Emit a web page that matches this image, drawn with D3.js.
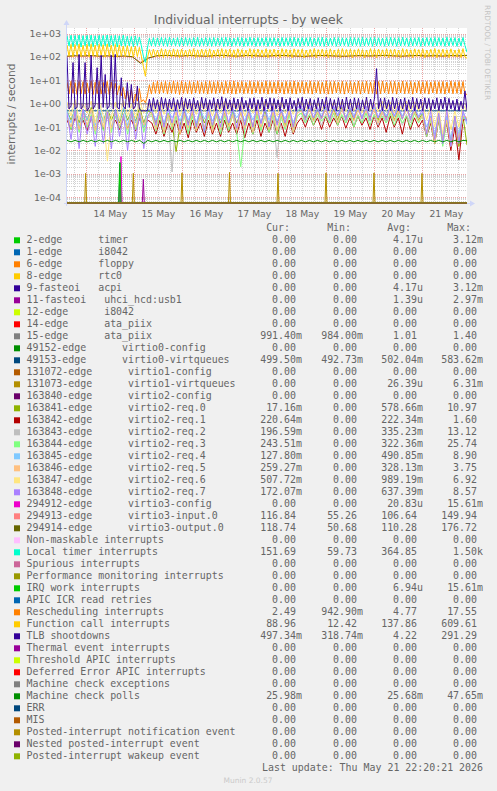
<!DOCTYPE html>
<html><head><meta charset="utf-8">
<script src="https://cdn.jsdelivr.net/npm/d3@7"></script>
<style>
html,body{margin:0;padding:0;background:#F0F0F0;}
svg{display:block;}
</style></head><body>
<svg id="c" width="497" height="791"></svg>
<script>
// ---------------- DATA ----------------
const title = "Individual interrupts - by week";
const yAxisTitle = "interrupts / second";
const watermark = "RRDTOOL / TOBI OETIKER";
const version = "Munin 2.0.57";
const lastUpdate = "Last update: Thu May 21 22:20:21 2026";
const startTime = "2026-05-13T14:20:21Z";
const endTime = "2026-05-21T22:20:21Z";
const yMin = 5.65e-5, yMax = 1755;
const yTickValues = [1e-4, 1e-3, 1e-2, 1e-1, 1e0, 1e1, 1e2, 1e3];
const yTickLabels = ["1e-04","1e-03","1e-02","1e-01","1e+00","1e+01","1e+02","1e+03"];
const xTickTimes = ["2026-05-14T12:00Z","2026-05-15T12:00Z","2026-05-16T12:00Z","2026-05-17T12:00Z","2026-05-18T12:00Z","2026-05-19T12:00Z","2026-05-20T12:00Z","2026-05-21T12:00Z"];
const xTickLabels = ["14 May","15 May","16 May","17 May","18 May","19 May","20 May","21 May"];
const statHeaders = ["Cur:","Min:","Avg:","Max:"];

const legendLabels = [
"2-edge      timer","1-edge      i8042","6-edge      floppy","8-edge      rtc0","9-fasteoi   acpi",
"11-fasteoi   uhci_hcd:usb1","12-edge      i8042","14-edge      ata_piix","15-edge      ata_piix",
"49152-edge      virtio0-config","49153-edge      virtio0-virtqueues","131072-edge      virtio1-config",
"131073-edge      virtio1-virtqueues","163840-edge      virtio2-config","163841-edge      virtio2-req.0",
"163842-edge      virtio2-req.1","163843-edge      virtio2-req.2","163844-edge      virtio2-req.3",
"163845-edge      virtio2-req.4","163846-edge      virtio2-req.5","163847-edge      virtio2-req.6",
"163848-edge      virtio2-req.7","294912-edge      virtio3-config","294913-edge      virtio3-input.0",
"294914-edge      virtio3-output.0","Non-maskable interrupts","Local timer interrupts","Spurious interrupts",
"Performance monitoring interrupts","IRQ work interrupts","APIC ICR read retries","Rescheduling interrupts",
"Function call interrupts","TLB shootdowns","Thermal event interrupts","Threshold APIC interrupts",
"Deferred Error APIC interrupts","Machine check exceptions","Machine check polls","ERR","MIS",
"Posted-interrupt notification event","Nested posted-interrupt event","Posted-interrupt wakeup event"];
const legendColors = [
"#00CC00","#0066B3","#FF8000","#FFCC00","#330099","#990099","#CCFF00","#FF0000","#808080","#008F00",
"#00487D","#B35A00","#B38F00","#6B006B","#8FB300","#B30000","#BEBEBE","#80FF80","#80C9FF","#FFC080",
"#FFE680","#AA80FF","#EE00CC","#FF8080","#666600","#FFBFFF","#00FFCC","#CC6699","#999900","#00CC00",
"#0066B3","#FF8000","#FFCC00","#330099","#990099","#CCFF00","#FF0000","#808080","#008F00","#00487D",
"#B35A00","#B38F00","#6B006B","#8FB300"];
const curVals = ["0.00","0.00","0.00","0.00","0.00","0.00","0.00","0.00","991.40m","0.00","499.50m","0.00","0.00","0.00","17.16m","220.64m","196.59m","243.51m","127.80m","259.27m","507.72m","172.07m","0.00","116.84","118.74","0.00","151.69","0.00","0.00","0.00","0.00","2.49","88.96","497.34m","0.00","0.00","0.00","0.00","25.98m","0.00","0.00","0.00","0.00","0.00"];
const minVals = ["0.00","0.00","0.00","0.00","0.00","0.00","0.00","0.00","984.00m","0.00","492.73m","0.00","0.00","0.00","0.00","0.00","0.00","0.00","0.00","0.00","0.00","0.00","0.00","55.26","50.68","0.00","59.73","0.00","0.00","0.00","0.00","942.90m","12.42","318.74m","0.00","0.00","0.00","0.00","0.00","0.00","0.00","0.00","0.00","0.00"];
const avgVals = ["4.17u","0.00","0.00","0.00","4.17u","1.39u","0.00","0.00","1.01","0.00","502.04m","0.00","26.39u","0.00","578.66m","222.34m","335.23m","322.36m","490.85m","328.13m","989.19m","637.39m","20.83u","106.64","110.28","0.00","364.85","0.00","0.00","6.94u","0.00","4.77","137.86","4.22","0.00","0.00","0.00","0.00","25.68m","0.00","0.00","0.00","0.00","0.00"];
const maxVals = ["3.12m","0.00","0.00","0.00","3.12m","2.97m","0.00","0.00","1.40","0.00","583.62m","0.00","6.31m","0.00","10.97","1.60","13.12","25.74","8.90","3.75","6.92","8.57","15.61m","149.94","176.72","0.00","1.50k","0.00","0.00","15.61m","0.00","17.55","609.61","291.29","0.00","0.00","0.00","0.00","47.65m","0.00","0.00","0.00","0.00","0.00"];

// dense series (evenly spaced over the week window)
const localTimer = [
820,300,860,280,840,310,880,270,830,300,850,290,870,280,820,310,860,290,840,300,
880,280,830,300,850,270,820,300,860,290,780,300,760,280,800,310,720,300,110,60,
240,640,300,680,290,660,310,690,300,670,290,700,310,650,300,680,290,670,300,690,
310,660,290,680,300,700,290,650,310,680,300,670,290,690,300,660,310,680,290,700,
300,670,290,650,310,690,300,680,290,660,300,700,310,670,290,680,300,660,310,690,
290,670,300,680,310,650,290,690,300,670,310,680,290,700,300,660,290,680,310,670,
300,690,290,660,310,680,300,700,290,670,300,650,310,690,290,680,300,670,310,660,
290,690,300,680,310,670,290,700,300,660,310,680,290,690,300,670,310,650,290,680,
300,690,310,670,290,680,300,700,310,660,290,680,300,670,310,690,290,660,300,680,
310,670,290,690,300,680,310,660,290,700,300,670,310,680,290,650,300,690,310,160];
const funcCall = [
330,110,350,100,340,115,360,105,320,110,345,100,355,110,330,105,350,115,340,100,
360,110,325,105,345,100,335,110,300,105,310,110,280,100,290,105,260,110,40,15,
90,210,100,220,105,200,100,230,95,215,105,205,100,225,100,210,95,220,105,200,
100,215,105,230,95,205,100,220,105,210,100,225,95,200,105,215,100,230,95,210,
105,220,100,205,95,225,105,210,100,200,105,230,95,215,100,220,105,205,100,225,
95,210,105,220,100,200,95,230,105,215,100,205,95,225,105,210,100,220,95,200,
105,215,100,230,95,210,105,220,100,205,95,225,105,200,100,215,95,230,105,210,
100,220,95,205,105,225,100,210,95,200,105,230,100,215,95,220,105,205,100,225,
95,210,105,220,100,200,95,230,105,215,100,205,95,225,105,210,100,220,95,200,
105,215,100,230,95,210,105,220,100,205,95,225,105,200,100,215,95,230,100,89];
const resched = [
8.5,2.6,9.2,2.8,8.0,2.5,9.0,2.7,8.8,2.6,7.9,2.9,9.3,2.5,8.4,2.7,9.1,2.6,8.2,2.8,
9.0,2.5,8.6,2.7,7.5,2.4,6.0,2.2,5.0,1.6,3.5,1.2,4.0,1.1,2.6,1.3,4.5,1.2,1.5,1.1,
2.2,6.5,2.6,8.4,2.8,9.2,2.7,8.6,2.9,9.0,2.6,8.3,2.8,9.4,2.7,8.7,2.5,9.1,2.8,8.5,
2.7,9.0,2.6,8.6,2.9,9.3,2.7,8.4,2.8,8.9,2.6,9.2,2.8,8.7,2.7,9.0,2.9,8.5,2.6,9.1,
2.8,8.8,2.7,9.4,2.6,8.6,2.9,9.0,2.7,8.3,2.8,9.2,2.6,8.7,2.9,9.0,2.7,8.5,2.8,9.3,
2.6,8.9,2.8,8.6,2.7,9.1,2.9,8.4,2.6,9.0,2.8,8.8,2.7,9.3,2.6,8.6,2.9,9.0,2.7,8.5,
2.8,9.2,2.6,8.7,2.9,9.0,2.7,8.4,2.8,9.3,2.6,8.8,2.7,9.0,2.9,8.6,2.8,9.1,2.6,8.7,
2.9,9.0,2.7,8.5,2.8,9.4,2.6,8.8,2.9,9.1,2.7,8.6,2.8,9.0,2.6,8.9,2.7,9.2,2.9,8.5,
2.7,8.9,2.8,9.0,2.6,8.6,2.9,9.3,2.7,8.7,2.8,9.0,2.6,8.4,2.9,9.2,2.7,8.8,2.8,9.0,
2.6,8.6,2.9,9.1,2.7,8.8,2.8,9.0,2.6,8.5,2.9,9.3,2.7,8.7,2.8,9.0,2.6,8.9,2.7,2.5];
const tlbShoot = [
96,0.6,0.8,58,0.6,0.7,130,0.6,0.8,58,0.5,0.7,118,0.6,0.9,35,0.6,118,0.7,18,
0.6,0.8,118,0.6,130,0.7,0.6,13,0.8,0.6,8,0.7,6.7,0.6,0.8,5.8,0.6,0.5,0.5,0.5,
0.5,1.6,0.5,1.8,0.6,1.5,0.5,1.9,0.6,1.7,0.5,1.6,0.6,1.8,0.5,1.5,0.6,1.9,0.5,1.7,
0.6,1.6,0.5,1.8,0.6,1.4,0.5,1.9,0.6,1.7,0.5,1.5,0.6,1.8,0.5,1.6,0.6,2.0,0.5,1.7,
0.6,1.5,0.5,1.8,0.6,1.6,0.5,1.9,0.6,1.4,0.5,1.7,0.6,1.8,0.5,1.5,0.6,1.9,0.5,1.6,
0.6,1.8,0.5,1.7,0.6,1.5,0.5,1.9,0.6,1.6,0.5,1.8,0.6,1.4,0.5,1.7,0.6,1.9,0.5,1.6,
0.6,1.7,0.5,1.5,0.6,1.8,0.5,1.6,0.6,1.9,0.5,1.7,0.6,1.5,0.5,1.8,0.6,1.6,0.5,1.9,
0.6,1.6,0.5,1.8,0.6,1.7,0.5,1.5,0.6,1.9,0.5,1.6,0.6,1.8,32,0.6,1.7,0.5,1.8,0.6,
1.5,0.5,1.9,0.6,1.7,0.5,1.6,0.6,1.8,0.5,1.5,0.6,1.9,0.5,1.7,0.6,1.6,0.5,1.8,0.6,
1.7,0.5,1.5,0.6,1.8,0.5,1.6,0.6,1.9,0.5,1.7,0.6,1.4,0.5,1.6,0.5,1.3,0.6,3.5,0.5];
const virtio3In = [
105,110,108,112,106,110,104,108,100,60,90,110,115,112,108,114,110,106,112,116,
110,108,114,112,106,110,115,112,108,104,110,114,112,108,106,110,113,109,112,115,
110,107,111,114,109,112,108,113,110,117];
const virtio3Out = [
110,114,112,116,110,113,108,112,104,54,92,114,118,116,112,117,113,110,115,119,
113,111,117,115,110,113,118,115,111,108,113,117,115,111,109,113,116,112,115,118,
113,110,114,117,112,115,111,116,113,119];
const ataPiix15 = [1.0,1.01,1.02,1.0,1.01,1.0,1.03,1.01,1.0,1.02,1.01,1.0,1.01,1.02,1.0,1.01,1.0,1.02,1.01,1.0,1.01,1.02,1.0,1.01,0.99];
const virtio0Vq = [0.5,0.502,0.501,0.503,0.5,0.502,0.501,0.5,0.503,0.502,0.5,0.501,0.502,0.5,0.503,0.501,0.5,0.502,0.501,0.503,0.5,0.502,0.501,0.5,0.4995];
const req0 = [
0.5,0.2,0.6,0.15,0.5,0.2,0.7,0.15,0.5,0.18,0.6,0.2,0.5,0.15,0.6,0.2,0.5,0.18,0.7,0.15,0.5,
0.4,0.15,0.5,0.12,0.4,0.15,0.009,0.12,0.5,0.15,0.4,0.12,0.5,0.15,0.4,0.1,0.5,0.15,0.4,0.12,0.5,0.15,0.4,0.12,0.5,0.1,0.4,0.15,0.5,0.12,0.4,0.15,0.5,0.12,0.4,0.1,0.5,
0.6,0.25,0.7,0.2,0.6,0.25,0.7,0.22,0.6,0.2,0.7,0.25,0.6,0.2,0.7,0.22,0.6,0.25,0.7,0.2,0.6,0.25,0.7,0.2,0.6,0.22,0.7,0.25,0.6,0.2,
0.4,0.05,0.3,0.02,0.35,0.03,0.3,0.02,0.25,0.015,0.3,0.017];
const req1 = [
0.2,0.08,0.25,0.1,0.2,0.07,0.25,0.09,0.2,0.08,0.3,0.1,0.2,0.08,0.25,0.09,0.2,0.07,0.25,0.1,0.2,
0.15,0.05,0.2,0.04,0.15,0.06,0.2,0.05,0.15,0.035,0.2,0.06,0.15,0.04,0.2,0.05,0.15,0.04,0.2,0.06,0.15,0.05,0.2,0.035,0.15,0.05,0.2,0.04,0.15,0.06,0.2,0.05,0.15,0.04,0.2,0.05,0.15,
0.25,0.1,0.3,0.12,0.25,0.08,0.3,0.1,0.25,0.12,0.3,0.09,0.25,0.1,0.3,0.12,0.25,0.08,0.3,0.1,0.25,0.06,0.3,0.1,0.25,0.05,0.3,0.08,0.25,0.1,
0.2,0.04,0.15,0.02,0.2,0.03,0.15,0.01,0.1,0.004,0.2,0.22];
const req2 = [
0.3,0.1,0.35,0.08,0.3,0.12,0.25,0.09,0.35,0.1,0.3,0.08,0.3,0.11,0.25,0.1,0.35,0.08,0.3,0.1,0.25,
0.3,0.09,0.35,0.07,0.3,0.0012,0.3,0.08,0.35,0.06,0.3,0.09,0.25,0.07,0.35,0.08,0.3,0.06,0.35,0.09,0.3,0.07,0.25,0.08,0.35,0.06,0.3,0.09,0.35,0.07,0.3,0.005,0.3,0.08,0.35,0.06,0.3,
0.4,0.15,0.35,0.18,0.4,0.12,0.35,0.15,0.4,0.18,0.3,0.15,0.4,0.12,0.35,0.15,0.4,0.18,0.3,0.12,0.4,0.15,0.35,0.18,0.4,0.12,0.35,0.15,0.4,0.18,
0.3,0.05,0.2,0.03,0.25,0.02,0.3,0.015,0.2,0.03,0.25,0.2];
const req3 = [
0.3,0.08,0.4,0.06,0.25,0.1,0.35,0.05,0.3,0.07,0.4,0.06,0.3,0.09,0.35,0.05,0.3,0.08,0.4,0.06,0.3,
0.35,0.07,0.3,0.05,0.4,0.08,0.3,0.06,0.35,0.05,0.3,0.07,0.4,0.06,0.3,0.08,0.35,0.05,0.3,0.07,0.4,0.06,0.002,0.08,0.3,0.05,0.35,0.07,0.3,0.06,0.4,0.05,0.3,0.08,0.35,0.06,0.3,
0.4,0.15,0.35,0.12,0.4,0.18,0.3,0.15,0.4,0.12,0.35,0.15,0.4,0.1,0.3,0.15,0.4,0.12,0.35,0.18,0.3,0.15,0.4,0.12,0.35,0.15,0.3,0.1,0.4,0.15,
0.3,0.04,0.2,0.02,0.25,0.015,0.2,0.02,0.3,0.03,0.25,0.24];
const req4 = [
0.5,0.15,0.7,0.1,0.6,0.2,0.5,0.12,0.8,0.15,0.6,0.1,0.5,0.18,0.7,0.12,0.6,0.15,0.5,0.1,0.6,
0.5,0.2,0.6,0.15,0.55,0.25,0.5,0.18,0.65,0.2,0.5,0.15,0.6,0.22,0.55,0.18,0.5,0.2,0.6,0.15,0.55,0.25,0.5,0.18,0.6,0.2,0.5,0.15,0.65,0.2,0.55,0.18,0.5,0.22,0.6,0.15,0.5,
0.6,0.3,0.7,0.25,0.6,0.3,0.65,0.28,0.7,0.3,0.6,0.25,0.7,0.3,0.65,0.28,0.6,0.3,0.7,0.25,0.6,0.3,0.65,0.28,0.7,0.3,0.6,0.25,0.7,0.3,
0.4,0.1,0.3,0.05,0.35,0.04,0.3,0.03,0.25,0.05,0.4,0.13];
const req5 = [
0.3,0.1,0.5,0.08,0.4,0.12,0.6,0.07,0.35,0.1,0.5,0.09,0.4,0.11,0.3,0.08,0.45,0.1,0.5,0.12,0.3,
0.4,0.08,0.5,0.06,0.35,0.1,0.45,0.05,0.4,0.09,0.5,0.07,0.3,0.1,0.45,0.06,0.4,0.08,0.5,0.1,0.35,0.07,0.45,0.09,0.4,0.06,0.5,0.1,0.3,0.08,0.45,0.07,0.4,0.1,0.5,0.06,0.4,
0.5,0.2,0.6,0.18,0.45,0.22,0.55,0.2,0.5,0.15,0.6,0.2,0.45,0.18,0.55,0.22,0.5,0.2,0.6,0.15,0.45,0.2,0.55,0.18,0.5,0.22,0.6,0.2,0.45,0.18,
0.3,0.05,0.25,0.02,0.3,0.03,0.2,0.015,0.25,0.03,0.3,0.26];
const req6 = [
1.2,0.3,1.5,0.2,1.0,0.4,1.3,0.15,1.1,0.3,0.0035,0.3,1.2,0.2,1.4,0.3,1.0,0.25,1.3,0.4,0.8,
1.0,0.4,1.2,0.35,0.9,0.5,1.1,0.3,1.3,0.4,1.0,0.35,1.2,0.45,0.9,0.3,1.1,0.4,1.3,0.35,1.0,0.5,1.2,0.3,0.9,0.4,1.1,0.35,1.3,0.45,1.0,0.3,1.2,0.4,0.9,0.35,1.1,
1.2,0.5,1.3,0.45,1.1,0.5,1.4,0.4,1.2,0.55,1.3,0.45,1.1,0.5,1.2,0.4,1.4,0.5,1.1,0.45,1.3,0.5,1.2,0.4,1.1,0.5,1.3,0.45,1.2,0.5,
1.0,0.2,0.8,0.1,0.6,0.05,0.7,0.08,0.5,0.1,0.9,0.5];
const req7 = [
0.4,0.03,0.5,0.012,0.6,0.05,0.3,0.015,0.5,0.02,0.45,0.012,0.6,0.04,0.35,0.01,0.5,0.03,0.4,0.012,0.3,
0.6,0.12,0.8,0.1,0.7,0.15,0.9,0.08,0.6,0.12,0.8,0.1,0.7,0.06,0.9,0.12,0.6,0.1,0.8,0.15,0.7,0.09,0.8,0.12,0.6,0.1,0.9,0.14,0.7,0.1,0.8,0.12,0.6,0.15,0.9,0.1,0.7,
0.8,0.2,0.9,0.25,0.7,0.22,1.0,0.2,0.8,0.3,0.9,0.2,0.7,0.25,0.9,0.22,0.8,0.2,1.0,0.25,0.7,0.2,0.9,0.3,0.8,0.22,0.9,0.2,0.7,0.25,
0.6,0.05,0.5,0.03,0.4,0.02,0.6,0.015,0.3,0.02,0.5,0.17];
const mcPolls = [
0.027,0.0235,0.027,0.0235,0.027,0.0235,0.027,0.0235,0.027,0.0235,0.027,0.0235,0.027,0.0235,0.027,0.0235,0.027,0.0235,0.027,0.02,
0.027,0.0235,0.027,0.0235,0.027,0.0235,0.027,0.0235,0.027,0.0235,0.027,0.0235,0.027,0.0235,0.027,0.0235,0.027,0.0235,0.027,0.0235,
0.027,0.0235,0.027,0.0235,0.027,0.0235,0.027,0.0235,0.027,0.0235,0.027,0.0235,0.027,0.0235,0.027,0.0235,0.027,0.0235,0.027,0.0235,
0.027,0.0235,0.027,0.0235,0.027,0.0235,0.027,0.0235,0.027,0.0235,0.027,0.0235,0.027,0.0235,0.027,0.0235,0.027,0.0235,0.027,0.0235,
0.027,0.0235,0.027,0.0235,0.027,0.0235,0.027,0.0235,0.027,0.0235,0.027,0.0235,0.027,0.0235,0.027,0.0235,0.027,0.0235,0.027,0.026];

// sparse spike series (zero elsewhere)
const vq1SpikeTimes = ["2026-05-13T23:40Z","2026-05-14T23:30Z","2026-05-15T23:50Z","2026-05-16T23:35Z","2026-05-17T23:50Z","2026-05-18T23:50Z","2026-05-19T23:50Z","2026-05-20T23:50Z"];
const vq1SpikeVals = [1.05e-3,1.05e-3,1.1e-3,1.15e-3,1.05e-3,1.1e-3,1.1e-3,1.05e-3];
const timerSpikeTimes = ["2026-05-14T16:40Z"]; const timerSpikeVals = [3e-3];
const acpiSpikeTimes = ["2026-05-14T16:50Z"]; const acpiSpikeVals = [3e-3];
const usbSpikeTimes = ["2026-05-15T04:30Z"]; const usbSpikeVals = [6e-4];
const v3cfgSpikeTimes = ["2026-05-14T17:20Z"]; const v3cfgSpikeVals = [5.5e-3];
const irqWorkSpikeTimes = ["2026-05-14T16:50Z"]; const irqWorkSpikeVals = [3e-3];

// ---------------- DRAWING ----------------
const W = 497, H = 791;
const plot = {left: 67, top: 28, width: 400, height: 175};
const bottomY = plot.top + plot.height;
const T0 = new Date(startTime).getTime(), T1 = new Date(endTime).getTime();
const fontColor = "#666666", axisColor = "#CFD6F8";

const svg = d3.select("#c");
svg.append("rect").attr("width", W).attr("height", H).attr("fill", "#F0F0F0");
svg.append("rect").attr("x", plot.left).attr("y", plot.top).attr("width", plot.width).attr("height", plot.height).attr("fill", "#FFFFFF");

const x = d3.scaleUtc().domain([new Date(T0), new Date(T1)]).range([plot.left, plot.left + plot.width]);
const y = d3.scaleLog().domain([yMin, yMax]).range([bottomY, plot.top]);

// grid
const grid = svg.append("g");
d3.utcHour.every(6).range(new Date(T0), new Date(T1)).forEach(t => {
  const major = t.getUTCHours() === 0;
  const xx = Math.round(x(t)) + 0.5;
  grid.append("line").attr("x1", xx).attr("x2", xx).attr("y1", plot.top).attr("y2", bottomY)
    .attr("stroke", major ? "#EBA3A3" : "#D2D2D2").attr("stroke-dasharray", "1,1");
});
for (let e = -5; e <= 3; e++) {
  for (let k = 1; k <= 9; k++) {
    const v = k * Math.pow(10, e);
    if (v < yMin || v > yMax) continue;
    const yy = Math.round(y(v)) + 0.5;
    grid.append("line").attr("x1", plot.left).attr("x2", plot.left + plot.width).attr("y1", yy).attr("y2", yy)
      .attr("stroke", k === 1 ? "#EBA3A3" : "#D2D2D2").attr("stroke-dasharray", "1,1");
  }
}

// axes (rrdtool style)
const ax = svg.append("g").attr("fill", axisColor).attr("stroke", axisColor);
ax.append("line").attr("x1", plot.left - 0.5).attr("x2", plot.left - 0.5).attr("y1", bottomY + 3).attr("y2", plot.top - 4);
ax.append("path").attr("stroke", "none").attr("d", `M${plot.left - 3.5},${plot.top - 3}L${plot.left + 2.5},${plot.top - 3}L${plot.left - 0.5},${plot.top - 8}Z`);
ax.append("line").attr("x1", plot.left - 3).attr("x2", plot.left + plot.width + 4).attr("y1", bottomY + 0.5).attr("y2", bottomY + 0.5);
ax.append("path").attr("stroke", "none").attr("d", `M${plot.left + plot.width + 3},${bottomY - 2.5}L${plot.left + plot.width + 3},${bottomY + 3.5}L${plot.left + plot.width + 8},${bottomY + 0.5}Z`);

// series building
function dense(vals) {
  const n = vals.length;
  return vals.map((v, j) => ({t: new Date(T0 + j * (T1 - T0) / (n - 1)), v}));
}
function spikes(times, vals) {
  const pts = [{t: new Date(T0), v: 0}];
  times.forEach((s, i) => {
    const tc = new Date(s).getTime();
    pts.push({t: new Date(tc - 30 * 60e3), v: 0}, {t: new Date(tc), v: vals[i]}, {t: new Date(tc + 30 * 60e3), v: 0});
  });
  pts.push({t: new Date(T1), v: 0});
  return pts;
}
function zeros() { return [{t: new Date(T0), v: 0}, {t: new Date(T1), v: 0}]; }

const seriesData = legendLabels.map(() => zeros());
seriesData[0] = spikes(timerSpikeTimes, timerSpikeVals);
seriesData[4] = spikes(acpiSpikeTimes, acpiSpikeVals);
seriesData[5] = spikes(usbSpikeTimes, usbSpikeVals);
seriesData[8] = dense(ataPiix15);
seriesData[10] = dense(virtio0Vq);
seriesData[12] = spikes(vq1SpikeTimes, vq1SpikeVals);
seriesData[14] = dense(req0);
seriesData[15] = dense(req1);
seriesData[16] = dense(req2);
seriesData[17] = dense(req3);
seriesData[18] = dense(req4);
seriesData[19] = dense(req5);
seriesData[20] = dense(req6);
seriesData[21] = dense(req7);
seriesData[22] = spikes(v3cfgSpikeTimes, v3cfgSpikeVals);
seriesData[23] = dense(virtio3In);
seriesData[24] = dense(virtio3Out);
seriesData[26] = dense(localTimer);
seriesData[29] = spikes(irqWorkSpikeTimes, irqWorkSpikeVals);
seriesData[31] = dense(resched);
seriesData[32] = dense(funcCall);
seriesData[33] = dense(tlbShoot);
seriesData[38] = dense(mcPolls);

svg.append("clipPath").attr("id", "clip").append("rect")
  .attr("x", plot.left).attr("y", plot.top).attr("width", plot.width).attr("height", plot.height + 0.5);
const line = d3.line().x(d => x(d.t)).y(d => d.v > 0 ? Math.min(y(d.v), bottomY) : bottomY);
const lines = svg.append("g").attr("clip-path", "url(#clip)");
seriesData.forEach((pts, i) => {
  lines.append("path").attr("d", line(pts)).attr("fill", "none")
    .attr("stroke", legendColors[i]).attr("stroke-width", 1);
});

// title & labels
svg.append("text").attr("x", 248.3).attr("y", 24.3).attr("text-anchor", "middle")
  .attr("font-family", "DejaVu Sans").attr("font-size", 12.4).attr("fill", fontColor).text(title);
svg.append("text").attr("transform", "translate(14.8,114) rotate(-90)").attr("text-anchor", "middle")
  .attr("font-family", "DejaVu Sans").attr("font-size", 10.7).attr("fill", fontColor).text(yAxisTitle);
svg.append("text").attr("transform", "translate(485,5) rotate(90)").attr("text-anchor", "start")
  .attr("font-family", "DejaVu Sans").attr("font-size", 7.4).attr("fill", "#C4C4C4").text(watermark);

yTickValues.forEach((v, i) => {
  svg.append("text").attr("x", 61).attr("y", y(v) + 3.4).attr("text-anchor", "end")
    .attr("font-family", "DejaVu Sans").attr("font-size", 9.4).attr("fill", fontColor).text(yTickLabels[i]);
});
xTickTimes.forEach((s, i) => {
  svg.append("text").attr("x", x(new Date(s))).attr("y", 216.5).attr("text-anchor", "middle")
    .attr("font-family", "DejaVu Sans").attr("font-size", 9.2).attr("fill", fontColor).text(xTickLabels[i]);
});

// legend
const mono = {family: "DejaVu Sans Mono", size: 9.93};
const charW = 0.602 * mono.size;
const colRight = [302, 363, 423, 483];
const rowBase = 243.3, rowH = 12;
function monoText(xp, yp, str, anchor) {
  return svg.append("text").attr("x", xp).attr("y", yp).attr("text-anchor", anchor || "start")
    .attr("font-family", mono.family).attr("font-size", mono.size).attr("fill", fontColor)
    .attr("xml:space", "preserve").style("white-space", "pre").text(str);
}
statHeaders.forEach((h, c) => monoText(colRight[c] - 2 * charW, 230.8, h, "end"));
const cols = [curVals, minVals, avgVals, maxVals];
legendLabels.forEach((lab, i) => {
  const by = rowBase + i * rowH;
  svg.append("rect").attr("x", 14).attr("y", by - 6).attr("width", 6).attr("height", 6).attr("fill", legendColors[i]);
  monoText(26.5, by, lab);
  cols.forEach((arr, c) => {
    const s = arr[i];
    const suf = /[a-zA-Z]$/.test(s) ? s.slice(-1) : "";
    const num = suf ? s.slice(0, -1) : s;
    monoText(colRight[c] - charW, by, num, "end");
    if (suf) monoText(colRight[c] - charW, by, suf, "start");
  });
});
monoText(483, rowBase + legendLabels.length * rowH, lastUpdate, "end");
svg.append("text").attr("x", 248).attr("y", 782.7).attr("text-anchor", "middle")
  .attr("font-family", "DejaVu Sans").attr("font-size", 7.5).attr("fill", "#CACACA").text(version);
</script>
</body></html>
